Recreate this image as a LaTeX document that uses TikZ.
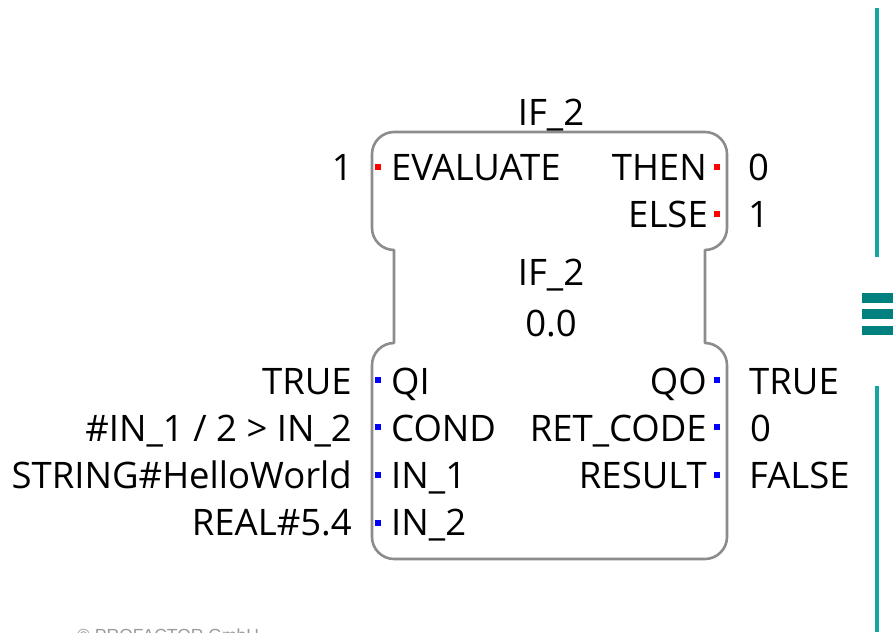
\documentclass[tikz,border=0pt]{standalone}
\usepackage{fontspec}
\setmainfont{Open Sans}
\newfontfamily\notefont{Liberation Sans}
\definecolor{blockline}{HTML}{8C8C8C}
\definecolor{evred}{HTML}{FF0000}
\definecolor{datablue}{HTML}{0000FF}
\definecolor{tealline}{HTML}{14A5A5}
\definecolor{tealbar}{HTML}{00807F}
\definecolor{notegray}{HTML}{999999}
\begin{document}
\begin{tikzpicture}[x=1pt,y=-1pt,
  txt/.style={inner sep=0pt, font=\fontsize{36.5}{40}\selectfont},
  lefttxt/.style={txt, anchor=base west},
  righttxt/.style={txt, anchor=base east},
  midtxt/.style={txt, anchor=base},
  port/.style={rectangle, inner sep=0pt, minimum size=6pt, draw=none},
  evport/.style={port, fill=evred},
  dataport/.style={port, fill=datablue},
  outline/.style={draw=blockline, line width=2.6pt, line join=round},
  sidebar/.style={draw=tealline, line width=4pt},
  menubar/.style={fill=tealbar, draw=none}]
\useasboundingbox (0,0) rectangle (894,632);

% function block outline: event part, neck, data part
\draw[outline] (394,132) -- (705,132)
  .. controls (717,132) and (727,142) .. (727,154) -- (727,228)
  .. controls (727,240) and (717,250) .. (705,250) -- (705,343)
  .. controls (717,343) and (727,353) .. (727,365) -- (727,537)
  .. controls (727,549) and (717,559) .. (705,559) -- (394,559)
  .. controls (382,559) and (372,549) .. (372,537) -- (372,365)
  .. controls (372,353) and (382,343) .. (394,343) -- (394,250)
  .. controls (382,250) and (372,240) .. (372,228) -- (372,154)
  .. controls (372,142) and (382,132) .. (394,132) -- cycle;

% instance name
\node[midtxt] (title) at (551,125) {IF\_2};

% event ports
\node[evport] (pEval) at (378,167) {};
\node[evport] (pThen) at (717,167) {};
\node[evport] (pElse) at (717,214) {};
\node[righttxt] (vEval) at (353,180) {1};
\node[lefttxt] (nEval) at (391,180) {EVALUATE};
\node[righttxt] (nThen) at (707,180) {THEN};
\node[lefttxt] (vThen) at (748,180) {0};
\node[righttxt] (nElse) at (708,227) {ELSE};
\node[lefttxt] (vElse) at (748,227) {1};

% type name and version
\node[midtxt] (typeName) at (551,285) {IF\_2};
\node[midtxt] (version) at (551,336) {0.0};

% data ports
\node[dataport] (pQI) at (378,380) {};
\node[dataport] (pCond) at (378,427) {};
\node[dataport] (pIn1) at (378,475) {};
\node[dataport] (pIn2) at (378,523) {};
\node[dataport] (pQO) at (717,380) {};
\node[dataport] (pRet) at (717,427) {};
\node[dataport] (pRes) at (717,475) {};

\node[righttxt] (vQI) at (352,394) {TRUE};
\node[lefttxt] (nQI) at (391,394) {QI};
\node[righttxt] (nQO) at (707,394) {QO};
\node[lefttxt] (vQO) at (749,394) {TRUE};

\node[righttxt] (vCond) at (352,441) {\#IN\_1 / 2 > IN\_2};
\node[lefttxt] (nCond) at (391,441) {COND};
\node[righttxt] (nRet) at (707,441) {RET\_CODE};
\node[lefttxt] (vRet) at (750,441) {0};

\node[righttxt] (vIn1) at (352,488) {STRING\#HelloWorld};
\node[lefttxt] (nIn1) at (391,488) {IN\_1};
\node[righttxt] (nRes) at (707,488) {RESULT};
\node[lefttxt] (vRes) at (749,488) {FALSE};

\node[righttxt] (vIn2) at (352,535) {REAL\#5.4};
\node[lefttxt] (nIn2) at (391,535) {IN\_2};

% side panel handle
\draw[sidebar] (877,8) -- (877,257);
\draw[sidebar] (877,386) -- (877,632);
\fill[menubar] (862,293) rectangle (893,303);
\fill[menubar] (862,309) rectangle (893,319);
\fill[menubar] (862,326) rectangle (893,335);

% copyright note
\node[inner sep=0pt, anchor=base west, text=notegray,
  font=\notefont\fontsize{17.5}{20}\selectfont] (copy) at (77,641) {© PROFACTOR GmbH};
\end{tikzpicture}
\end{document}
